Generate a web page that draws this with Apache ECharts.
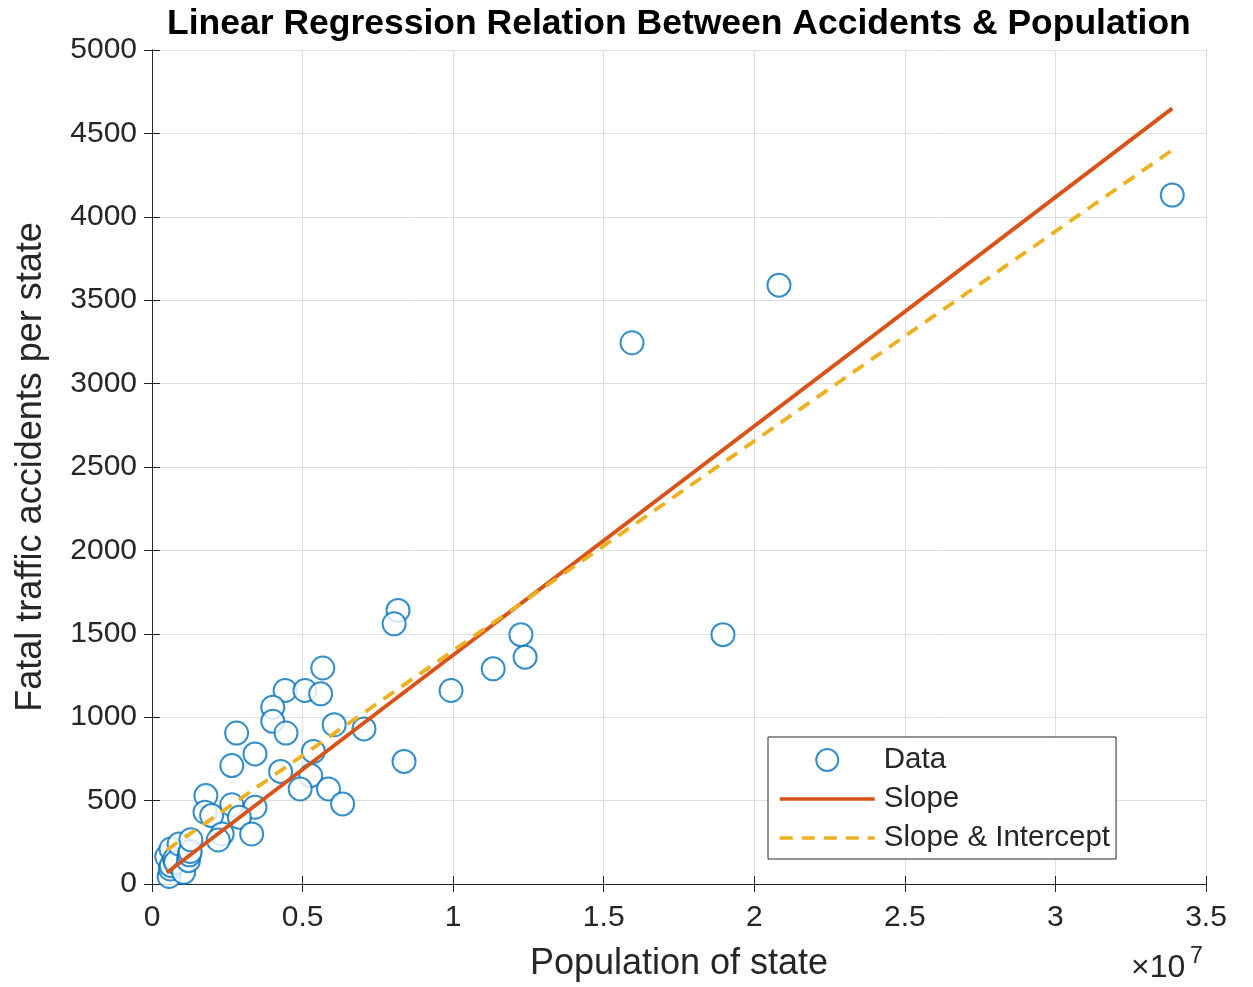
<!DOCTYPE html>
<html>
<head>
<meta charset="utf-8">
<script src="https://cdn.jsdelivr.net/npm/echarts@6/dist/echarts.min.js"></script>
<style>html,body{margin:0;padding:0;background:#fff;overflow:hidden}#c{width:1253px;height:987px}</style>
</head>
<body>
<div id="c"></div>
<script>
// Data (population in persons, fatal accidents)
const population = [33880000, 20820000, 15940000, 18960000, 12250000, 12390000, 11330000, 9930000, 8170000, 8040000,
  8370000, 7040000, 5670000, 4420000, 5080000, 5600000, 4010000, 4010000, 4450000, 2810000,
  6050000, 3420000, 2650000, 5360000, 4270000, 5270000, 4920000, 5860000, 6330000, 1790000,
  2650000, 3420000, 1760000, 1980000, 2900000, 3310000, 2330000, 2200000,
  490000, 570000, 610000, 630000, 640000, 750000, 780000, 900000, 1050000, 1210000, 1240000, 1270000, 1290000];
const accidents = [4130, 3590, 3245, 1495, 1495, 1360, 1290, 1160, 1640, 1560,
  735, 930, 1295, 1160, 1160, 1140, 1060, 975, 905, 905,
  955, 780, 710, 795, 675, 650, 570, 570, 480, 530,
  475, 460, 430, 410, 400, 300, 300, 264,
  165, 45, 90, 210, 110, 150, 130, 240, 70, 140, 175, 195, 265];
const fitX = [490000, 33880000];
const slopeY = [67, 4650];
const slopeInterceptY = [204, 4400];
const xTicks = [0, 0.5, 1, 1.5, 2, 2.5, 3, 3.5];

const scatterData = population.map((p, i) => [p, accidents[i]]);
const slopeData = fitX.map((x, i) => [x, slopeY[i]]);
const siData = fitX.map((x, i) => [x, slopeInterceptY[i]]);

const FONT = 'Liberation Sans, Arial, Helvetica, sans-serif';
const AX = '#262626';
const chart = echarts.init(document.getElementById('c'), null, {renderer: 'canvas', width: 1253, height: 987});
const common = {
  axisLine: {show: true, lineStyle: {color: AX, width: 1}},
  axisTick: {show: true, inside: true, length: 8, lineStyle: {color: AX}},
  splitLine: {show: false}
};
chart.setOption({
  animation: false,
  backgroundColor: '#fff',
  grid: {left: 152, right: 47, top: 50, bottom: 103, containLabel: false, outerBoundsMode: 'none'},
  xAxis: [
    Object.assign({}, common, {
      type: 'value', min: 0, max: 35000000, interval: 5000000,
      name: 'Population of state', nameLocation: 'middle', nameGap: 62,
      nameTextStyle: {fontFamily: FONT, fontSize: 36, color: AX},
      axisLabel: {fontFamily: FONT, fontSize: 30, color: AX, margin: 19,
        formatter: v => String(xTicks[Math.round(v / 5000000)])},
      splitLine: {show: true, lineStyle: {color: '#dedede', width: 1}}
    }),
    Object.assign({}, common, {
      type: 'value', min: 0, max: 35000000, interval: 5000000, position: 'top',
      axisLabel: {show: false}
    })
  ],
  yAxis: [
    Object.assign({}, common, {
      type: 'value', min: 0, max: 5000, interval: 500,
      name: 'Fatal traffic accidents per state', nameLocation: 'middle', nameGap: 103,
      nameTextStyle: {fontFamily: FONT, fontSize: 36, color: AX},
      axisLabel: {fontFamily: FONT, fontSize: 30, color: AX, margin: 15, formatter: v => String(v)},
      splitLine: {show: true, lineStyle: {color: '#dedede', width: 1}}
    }),
    Object.assign({}, common, {
      type: 'value', min: 0, max: 5000, interval: 500, position: 'right',
      axisLabel: {show: false}
    })
  ],
  legend: {
    orient: 'vertical', left: 768, top: 737,
    backgroundColor: '#fff', borderColor: AX, borderWidth: 1,
    padding: [8, 6, 6, 10], itemGap: 9, itemWidth: 95, itemHeight: 22,
    textStyle: {fontFamily: FONT, fontSize: 29.5, color: AX, lineHeight: 30, padding: [0, 0, 0, 4]},
    data: [
      {name: 'Data', icon: 'emptyCircle'},
      {name: 'Slope', itemStyle: {opacity: 0}, lineStyle: {width: 3.5, color: '#D95319'}},
      {name: 'Slope & Intercept', itemStyle: {opacity: 0}, lineStyle: {width: 3.5, color: '#EDB120', type: [13, 9]}}
    ]
  },
  graphic: [
    {type: 'text', left: 167, top: 6, style: {text: 'Linear Regression Relation Between Accidents & Population',
      font: 'bold 35.5px ' + FONT, fill: '#000'}},
    {type: 'text', left: 1131, top: 952, style: {text: '×10', font: '32px ' + FONT, fill: AX}},
    {type: 'text', left: 1190, top: 945, style: {text: '7', font: '23px ' + FONT, fill: AX}}
  ],
  series: [
    {name: 'Data', type: 'scatter', data: scatterData, symbol: 'emptyCircle', symbolSize: 23,
      itemStyle: {color: '#0072BD', borderColor: '#0072BD', borderWidth: 1.5}, z: 3},
    {name: 'Slope', type: 'line', data: slopeData, symbol: 'none', z: 4,
      lineStyle: {color: '#D95319', width: 3.8}, itemStyle: {color: '#D95319'}},
    {name: 'Slope & Intercept', type: 'line', data: siData, symbol: 'none', z: 5,
      lineStyle: {color: '#EDB120', width: 3.8, type: [13, 9]}, itemStyle: {color: '#EDB120'}}
  ]
});
</script>
</body>
</html>
